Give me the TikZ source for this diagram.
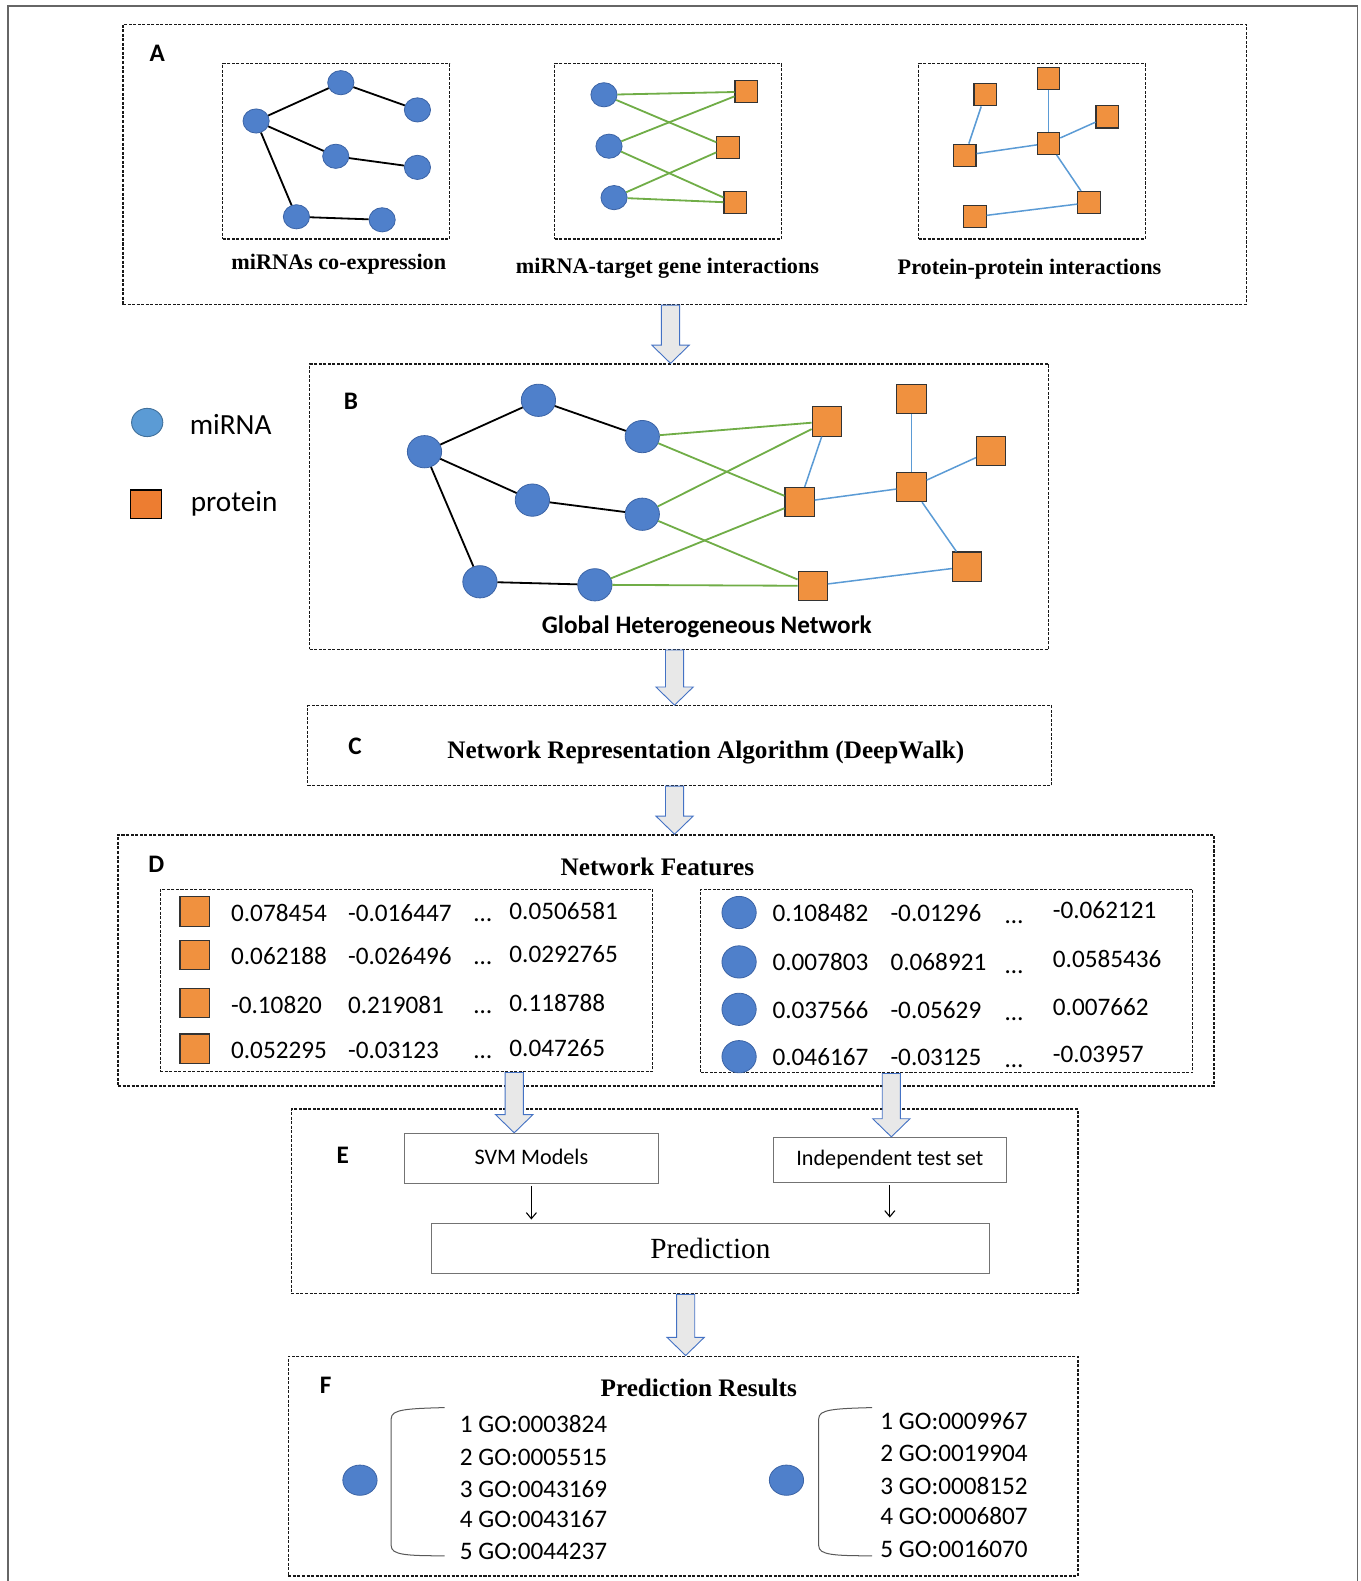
\documentclass[tikz,border=0pt]{standalone}
\usepackage{fontspec}
\setmainfont{Liberation Serif}
\setsansfont{Carlito}
\usetikzlibrary{calc, fit, shapes.geometric, arrows.meta}
\definecolor{mirblue}{HTML}{4F80CB}
\definecolor{mirline}{HTML}{3C64A6}
\definecolor{protor}{HTML}{F0913F}
\definecolor{legblue}{HTML}{5B9BD5}
\definecolor{legline}{HTML}{41719C}
\definecolor{legor}{HTML}{ED7D31}
\definecolor{linkgreen}{HTML}{70AD47}
\definecolor{linkblue}{HTML}{5B9BD5}
\definecolor{arrowblue}{HTML}{4472C4}
\tikzset{
  panel/.style={draw=black!90, line width=1.3pt, dash pattern=on 3pt off 1.5pt, inner sep=0pt},
  mi/.style={ellipse, fill=mirblue, draw=mirline, line width=0.8pt, minimum width=26pt, minimum height=24pt, inner sep=0pt},
  mib/.style={mi, minimum width=34pt, minimum height=32pt},
  pr/.style={rectangle, fill=protor, draw=black!80, line width=1.1pt, minimum size=22pt, inner sep=0pt},
  prb/.style={pr, minimum size=29pt},
  coex/.style={black, line width=1.8pt},
  tar/.style={linkgreen, line width=1.8pt},
  ppi/.style={linkblue, line width=1.5pt},
  bigarrow/.style={draw=arrowblue, fill=black!9, line width=0.9pt, line join=miter},
  box/.style={draw=black!55, line width=1pt, inner sep=0pt},
  brk/.style={draw=black!65, line width=1pt},
  nettitle/.style={font=\bfseries\fontsize{22}{26}\selectfont},
  ttl/.style={font=\bfseries\fontsize{25}{30}\selectfont},
  tag/.style={font=\sffamily\bfseries\fontsize{25}{30}\selectfont},
  num/.style={font=\sffamily\fontsize{25}{30}\selectfont, inner sep=0pt, anchor=base west},
  go/.style={font=\sffamily\fontsize{25}{30}\selectfont, inner sep=0pt, anchor=west},
}
\newcommand{\blockarr}[3]{\draw[bigarrow] let \p1=(#2), \p2=(#3) in (#1pt-9pt,\y1) -- (#1pt+9pt,\y1) -- (#1pt+9pt,\y2+18pt) -- (#1pt+18.5pt,\y2+18pt) -- (#1pt,\y2) -- (#1pt-18.5pt,\y2+18pt) -- (#1pt-9pt,\y2+18pt) -- cycle;}
\newcommand{\gobracket}[1]{\draw[brk] (#1+53,1396) .. controls (#1+14,1397) and (#1,1398) .. (#1,1407) -- (#1,1533) .. controls (#1,1542) and (#1+14,1543) .. (#1+53,1543);}

\begin{document}
\begin{tikzpicture}[x=1pt, y=-1pt]
\useasboundingbox (0,0) rectangle (1349,1568);
\draw[black!60, line width=1.3pt] (8,1568) -- (8,6) -- (1346,6) -- (1346,1568);

% A: the three source networks
\node[panel, fit={(122,24) (1236,302)}] (pA) {};
\node[tag] (tA) at (156,53) {A};
\node[panel, fit={(221,63) (446,237)}] (pA1) {};
\node[panel, fit={(550,63) (775,237)}] (pA2) {};
\node[panel, fit={(911,63) (1136,237)}] (pA3) {};
\foreach \n/\x/\y in {m1/254/120, m2/338/82, m3/414/109, m4/333/155, m5/414/166, m6/294/215, m7/379/218} \node[mi] (\n) at (\x,\y) {};
\foreach \a/\b in {m1/m2, m2/m3, m1/m4, m4/m5, m1/m6, m6/m7} \draw[coex] (\a) -- (\b);
\foreach \n/\x/\y in {t1/599/94, t2/604/145, t3/609/196} \node[mi] (\n) at (\x,\y) {};
\foreach \n/\x/\y in {g1/740/91, g2/722/146, g3/729/201} \node[pr] (\n) at (\x,\y) {};
\foreach \a/\b in {t1/g1, t1/g2, t2/g1, t2/g3, t3/g2, t3/g3} \draw[tar] (\a) -- (\b);
\foreach \n/\x/\y in {s1/977/94, s2/1040/78, s3/1098/116, s4/957/154, s5/1040/142, s6/1080/201, s7/967/215} \node[pr] (\n) at (\x,\y) {};
\foreach \a/\b in {s1/s4, s4/s5, s2/s5, s5/s3, s5/s6, s6/s7} \draw[ppi] (\a) -- (\b);
\node[nettitle] (cA1) at (336,262) {miRNAs co-expression};
\node[nettitle] (cA2) at (662,266) {miRNA-target gene interactions};
\node[nettitle] (cA3) at (1021,267) {Protein-protein interactions};

% B: global network and legend
\node[panel, fit={(307,361) (1040,644)}] (pB) {};
\node[tag] (tB) at (348,398) {B};
\node[ellipse, fill=legblue, draw=legline, line width=0.9pt, minimum width=31pt, minimum height=28pt, inner sep=0pt] (lm) at (146,419) {};
\node[rectangle, fill=legor, draw=black, line width=1.1pt, minimum width=31pt, minimum height=28pt, inner sep=0pt] (lp) at (145,500) {};
\node[font=\sffamily\fontsize{29}{34}\selectfont, inner sep=0pt, anchor=west] (lmt) at (188,421) {miRNA};
\node[font=\sffamily\fontsize{29}{34}\selectfont, inner sep=0pt, anchor=west] (lpt) at (189,500) {protein};
\foreach \n/\x/\y in {b1/421/448, b2/534/397, b3/637/433, b4/528/496, b5/637/510, b6/476/577, b7/590/580} \node[mib] (\n) at (\x,\y) {};
\foreach \n/\x/\y in {q1/820/418, q2/904/396, q3/983/447, q4/793/498, q5/904/483, q6/959/562, q7/806/581} \node[prb] (\n) at (\x,\y) {};
\foreach \a/\b in {b1/b2, b2/b3, b1/b4, b4/b5, b1/b6, b6/b7} \draw[coex] (\a) -- (\b);
\foreach \a/\b in {b3/q1, b3/q4, b5/q1, b5/q7, b7/q4, b7/q7} \draw[tar] (\a) -- (\b);
\foreach \a/\b in {q1/q4, q4/q5, q2/q5, q5/q3, q5/q6, q6/q7} \draw[ppi] (\a) -- (\b);
\node[font=\sffamily\bfseries\fontsize{25}{30}\selectfont] (cB) at (701,622) {Global Heterogeneous Network};

% C
\node[panel, fit={(305,700) (1043,779)}] (pC) {};
\node[tag] (tC) at (352,740) {C};
\node[ttl] (cC) at (700,746) {Network Representation Algorithm (DeepWalk)};

% D: feature vectors
\node[panel, fit={(117,828) (1204,1077)}] (pD) {};
\node[tag] (tD) at (155,857) {D};
\node[ttl] (cD) at (652,860) {Network Features};
\node[panel, fit={(159,882) (647,1063)}] (dl) {};
\node[panel, fit={(695,882) (1183,1064)}] (dr) {};
\foreach \i/\y/\a/\b/\c in {1/906/0.078454/-0.016447/0.0506581, 2/949/0.062188/-0.026496/0.0292765, 3/997/-0.10820/0.219081/0.118788, 4/1042/0.052295/-0.03123/0.047265}{
  \node[prb] (fs\i) at (193,\y-2) {};
  \node[num] (fsa\i) at (229,\y+8) {\a};
  \node[num] (fsb\i) at (345,\y+8) {\b};
  \node[num] (fsd\i) at (470,\y+8) {…};
  \node[num] (fsc\i) at (505,\y+6) {\c};
}
\foreach \i/\y/\a/\b/\c in {1/906/0.108482/-0.01296/-0.062121, 2/955/0.007803/0.068921/0.0585436, 3/1002/0.037566/-0.05629/0.007662, 4/1049/0.046167/-0.03125/-0.03957}{
  \node[mib] (fm\i) at (733,\y-1) {};
  \node[num] (fma\i) at (766,\y+8) {\a};
  \node[num] (fmb\i) at (883,\y+8) {\b};
  \node[num] (fmd\i) at (997,\y+10) {…};
  \node[num] (fmc\i) at (1044,\y+5) {\c};
}

% E: prediction
\node[panel, fit={(289,1100) (1069,1283)}] (pE) {};
\node[tag] (tE) at (340,1146) {E};
\node[box, minimum width=252pt, minimum height=50pt, font=\sffamily\fontsize{22}{26}\selectfont] (svm) at (527,1149) {\raisebox{3pt}{SVM Models}};
\node[box, minimum width=231pt, minimum height=45pt, font=\sffamily\fontsize{22}{26}\selectfont] (indep) at (882.5,1150.5) {Independent test set};
\node[box, minimum width=553pt, minimum height=50pt, font=\fontsize{29}{34}\selectfont] (pred) at (704.5,1238) {Prediction};
\draw[-{Straight Barb[length=6pt, width=10pt]}, line width=1.1pt, shorten <=2pt, shorten >=3pt] (svm.south) -- (svm.south |- pred.north);
\draw[-{Straight Barb[length=6pt, width=10pt]}, line width=1.1pt, shorten <=2pt, shorten >=5pt] (indep.south) -- (indep.south |- pred.north);

% F: results
\node[panel, fit={(286,1345) (1069,1563)}] (pF) {};
\node[tag] (tF) at (323,1374) {F};
\node[ttl] (cF) at (693,1376) {Prediction Results};
\node[mib, minimum height=30pt] (r1) at (357,1468) {};
\node[mib, minimum height=30pt] (r2) at (780,1468) {};
\gobracket{388}
\gobracket{812}
\foreach \t/\y in {1 GO:0003824/1412, 2 GO:0005515/1445, 3 GO:0043169/1477, 4 GO:0043167/1507, 5 GO:0044237/1539} \node[go] at (456,\y) {\t};
\foreach \t/\y in {1 GO:0009967/1409, 2 GO:0019904/1441, 3 GO:0008152/1474, 4 GO:0006807/1504, 5 GO:0016070/1536} \node[go] at (873,\y) {\t};

% block arrows between the stages
\blockarr{665}{pA.south}{pB.north}
\blockarr{669}{pB.south}{pC.north}
\blockarr{669}{pC.south}{pD.north}
\blockarr{510}{dl.south}{svm.north}
\blockarr{884}{dr.south}{indep.north}
\blockarr{680}{pE.south}{pF.north}
\end{tikzpicture}
\end{document}
